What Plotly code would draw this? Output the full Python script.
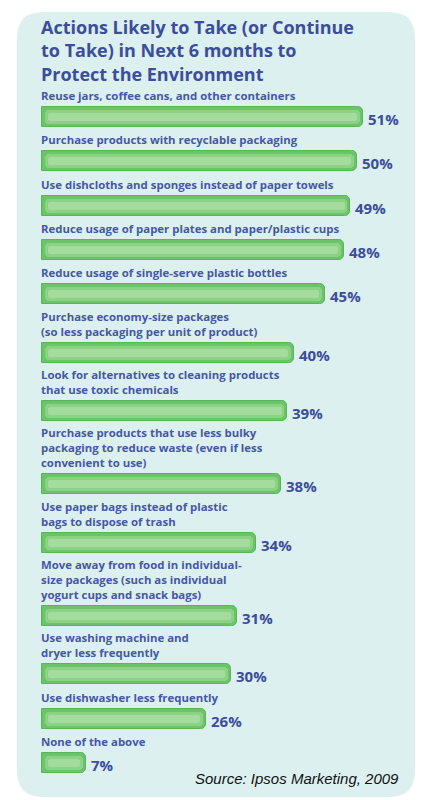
import plotly.graph_objects as go

# ---- data ----
labels = [
    "Reuse jars, coffee cans, and other containers",
    "Purchase products with recyclable packaging",
    "Use dishcloths and sponges instead of paper towels",
    "Reduce usage of paper plates and paper/plastic cups",
    "Reduce usage of single-serve plastic bottles",
    "Purchase economy-size packages<br>(so less packaging per unit of product)",
    "Look for alternatives to cleaning products<br>that use toxic chemicals",
    "Purchase products that use less bulky<br>packaging to reduce waste (even if less<br>convenient to use)",
    "Use paper bags instead of plastic<br>bags to dispose of trash",
    "Move away from food in individual-<br>size packages (such as individual<br>yogurt cups and snack bags)",
    "Use washing machine and<br>dryer less frequently",
    "Use dishwasher less frequently",
    "None of the above",
]
values = [51, 50, 49, 48, 45, 40, 39, 38, 34, 31, 30, 26, 7]
title_text = "Actions Likely to Take (or Continue<br>to Take) in Next 6 months to<br>Protect the Environment"
source_text = "Source: Ipsos Marketing, 2009"

# ---- layout helpers (pixel space; page adds an 8px body margin) ----
OFF = 8
W, H = 430, 800
X0 = 42 - OFF        # pixel where 0% sits
PX_PER = 6.29        # pixels per percent
BAR_H = 20
FIRST_Y = 117 - OFF
LINE_H = 14.3

ypos = []
y = FIRST_Y
for i, lab in enumerate(labels):
    if i > 0:
        n = lab.count("<br>") + 1
        y += 30 + LINE_H * n
    ypos.append(y)

TITLE_C = "#3b4d9b"
LABEL_C = "#4657a6"

fig = go.Figure()
fig.add_trace(go.Bar(
    x=values, y=ypos, orientation="h", width=BAR_H,
    marker=dict(color="#6cc46a", line=dict(color="#58b656", width=1), cornerradius=5),
    hoverinfo="skip", showlegend=False,
))
fig.add_trace(go.Bar(
    x=[v - 0.9 for v in values], base=[0.45] * len(values), y=ypos, orientation="h",
    width=BAR_H - 6,
    marker=dict(color="#8bd285", line=dict(width=0), cornerradius=4),
    hoverinfo="skip", showlegend=False,
))
fig.add_trace(go.Bar(
    x=[v - 1.8 for v in values], base=[0.9] * len(values), y=ypos, orientation="h",
    width=BAR_H - 12,
    marker=dict(color="#a4dc9d", line=dict(width=0), cornerradius=3),
    hoverinfo="skip", showlegend=False,
))

ann = []
for lab, v, yc in zip(labels, values, ypos):
    ann.append(dict(
        x=0, y=yc - BAR_H / 2 - 2, xref="x", yref="y", text="<b>" + lab + "</b>",
        xanchor="left", yanchor="bottom", align="left", showarrow=False,
        xshift=-3,
        font=dict(family="Open Sans", size=11.4, color=LABEL_C),
    ))
    ann.append(dict(
        x=v, y=yc + 2, xref="x", yref="y", text="<b>%d%%</b>" % v,
        xanchor="left", yanchor="middle", showarrow=False, xshift=3,
        font=dict(family="Open Sans", size=15, color=TITLE_C),
    ))

ann.append(dict(
    x=(39 - OFF) / W, y=1 - (51 - OFF) / H, xref="paper", yref="paper",
    text="<b>" + title_text + "</b>", xanchor="left", yanchor="middle", align="left",
    showarrow=False, font=dict(family="Open Sans", size=18, color=TITLE_C),
))

ann.append(dict(
    x=(401 - OFF) / W, y=1 - (778 - OFF) / H, xref="paper", yref="paper",
    text="<i>" + source_text + "</i>",
    xanchor="right", yanchor="middle", showarrow=False,
    font=dict(family="Liberation Sans", size=15, color="#111111"),
))

# rounded panel
L, T, R, B, r = (17 - OFF) / W, (12 - OFF) / H, (415 - OFF) / W, (797 - OFF) / H, 26
rx, ry = r / W, r / H
def py(v):
    return 1 - v
path = (
    f"M {L+rx},{py(T)} L {R-rx},{py(T)} Q {R},{py(T)} {R},{py(T+ry)} "
    f"L {R},{py(B-ry)} Q {R},{py(B)} {R-rx},{py(B)} "
    f"L {L+rx},{py(B)} Q {L},{py(B)} {L},{py(B-ry)} "
    f"L {L},{py(T+ry)} Q {L},{py(T)} {L+rx},{py(T)} Z"
)

fig.update_layout(
    width=W, height=H, margin=dict(l=0, r=0, t=0, b=0),
    paper_bgcolor="white", plot_bgcolor="rgba(0,0,0,0)",
    barmode="overlay", bargap=0,
    xaxis=dict(range=[-X0 / PX_PER, (W - X0) / PX_PER], visible=False, fixedrange=True),
    yaxis=dict(range=[H, 0], visible=False, fixedrange=True),
    shapes=[dict(type="path", path=path, xref="paper", yref="paper",
                 fillcolor="#dcf0f0", line=dict(width=0), layer="below")],
    annotations=ann,
)

fig.write_html("out.html")
